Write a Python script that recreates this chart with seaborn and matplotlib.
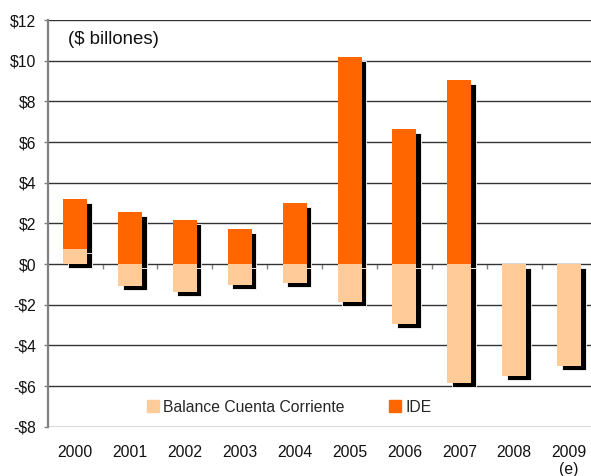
import numpy as np
import pandas as pd
import matplotlib
matplotlib.use("Agg")
import matplotlib.pyplot as plt
import matplotlib.patches as mpatches
from matplotlib.transforms import ScaledTranslation
import seaborn as sns

years = ["2000", "2001", "2002", "2003", "2004", "2005", "2006", "2007", "2008", "2009"]
year_labels = ["2000", "2001", "2002", "2003", "2004", "2005", "2006", "2007", "2008", "2009\n(e)"]
balance = [0.75, -1.07, -1.36, -1.02, -0.92, -1.85, -2.93, -5.84, -5.49, -5.00]
ide = [2.45, 2.56, 2.16, 1.72, 3.02, 10.18, 6.64, 9.05, 0.0, 0.0]
y_ticks = [-8, -6, -4, -2, 0, 2, 4, 6, 8, 10, 12]
y_tick_labels = ["-$8", "-$6", "-$4", "-$2", "$0", "$2", "$4", "$6", "$8", "$10", "$12"]

COL_BAL = "#FFCC99"
COL_IDE = "#FF6600"

df = pd.DataFrame({"year": years, "balance": balance, "ide": ide})
# IDE sits on top of a positive current-account balance
df["ide_top"] = df["ide"] + df["balance"].clip(lower=0)

sns.set_theme(style="white")
plt.rcParams["font.family"] = ["Liberation Sans", "DejaVu Sans"]

fig = plt.figure(figsize=(5.91, 4.76), dpi=100)
ax = fig.add_axes([47.7 / 591, 1 - 426.7 / 476, (596.5 - 47.7) / 591, (426.7 - 20) / 476])

bar_w = 0.437
shadow = ax.transData + ScaledTranslation(4.5 / 100, -4 / 100, fig.dpi_scale_trans)

def bars(col, color, z, shifted):
    n0 = len(ax.patches)
    sns.barplot(data=df, x="year", y=col, order=years, color=color, width=bar_w,
                saturation=1, errorbar=None, ax=ax, linewidth=0)
    for p in ax.patches[n0:]:
        p.set_zorder(z)
        p.set_facecolor(color)
        if shifted:
            p.set_transform(shadow)
            p.set_edgecolor("white")
            p.set_linewidth(0.6)

# drop shadows
bars("ide_top", "black", 1, True)
bars("balance", "black", 1, True)
# coloured bars
bars("ide_top", COL_IDE, 2, False)
bars("balance", COL_BAL, 3, False)

ax.set_xlim(-0.5, 9.5)
ax.set_ylim(-8, 12)
ax.set_yticks(y_ticks)
ax.set_yticklabels(y_tick_labels)
ax.set_xticks(range(len(years)))
ax.set_xticklabels(year_labels)
ax.set_xlabel("")
ax.set_ylabel("")

ax.grid(False)
for v in y_ticks:
    ax.axhline(v, color="#333333", lw=1.0, zorder=0.5)

for s in ["top", "right", "bottom"]:
    ax.spines[s].set_visible(False)
ax.spines["left"].set_color("#808080")
ax.spines["left"].set_linewidth(1.6)
ax.spines["left"].set_zorder(4)

ax.tick_params(axis="y", direction="out", length=3.2, width=1, color="#808080",
               labelsize=11.3, pad=5, labelcolor="#111111", left=True)
ax.tick_params(axis="x", length=0, labelsize=11.3, pad=13, labelcolor="#111111")

# category separators on the zero line
sec = ax.secondary_xaxis(8 / 20)
sec.set_xticks(np.arange(0.5, 9.5, 1.0))
sec.set_xticklabels([])
sec.tick_params(direction="out", length=3.5, width=1, color="#808080")
for s in sec.spines.values():
    s.set_visible(False)

ax.text(68 / 591, 1 - 40 / 476, "($ billones)", transform=fig.transFigure,
        fontsize=13.4, ha="left", va="center", color="#111111")

handles = [mpatches.Patch(color=COL_BAL, label="Balance Cuenta Corriente"),
           mpatches.Patch(color=COL_IDE, label="IDE")]
fig.legend(handles=handles, ncol=2, frameon=False, loc="center left",
           bbox_to_anchor=(147 / 591, 1 - 407 / 476), bbox_transform=fig.transFigure,
           fontsize=11.3, handlelength=0.75, handleheight=0.75, handletextpad=0.3,
           columnspacing=2.8, borderpad=0, borderaxespad=0)

fig.savefig("out.png", dpi=100)
